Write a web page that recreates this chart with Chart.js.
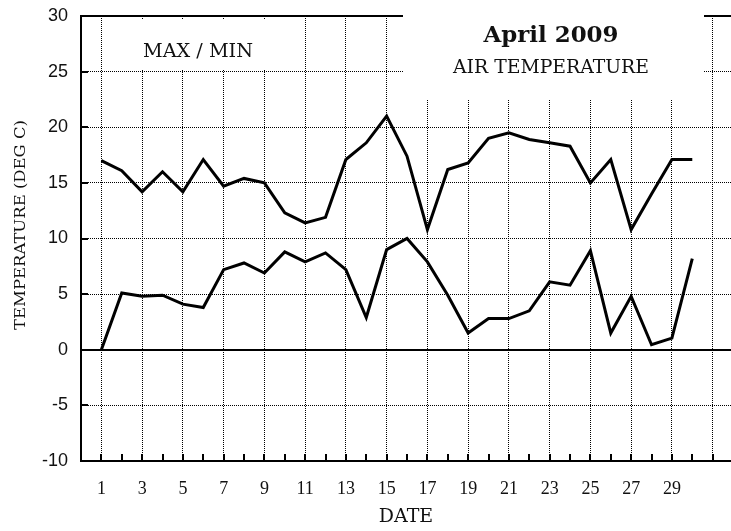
<!DOCTYPE html>
<html>
<head>
<meta charset="utf-8">
<script src="https://cdn.jsdelivr.net/npm/chart.js@4.4.1/dist/chart.umd.min.js"></script>
<style>
  html, body { margin: 0; padding: 0; background: #fff; overflow: hidden; }
  canvas { display: block; }
</style>
</head>
<body>
<canvas id="chart" width="731" height="531"></canvas>
<script>
// April 2009 daily air temperature
const days = [1, 2, 3, 4, 5, 6, 7, 8, 9, 10, 11, 12, 13, 14, 15,
              16, 17, 18, 19, 20, 21, 22, 23, 24, 25, 26, 27, 28, 29, 30];
const maxTemps = [17.0, 16.1, 14.2, 16.0, 14.2, 17.1, 14.7, 15.4, 15.0, 12.3,
                  11.4, 11.9, 17.1, 18.6, 21.0, 17.4, 10.8, 16.2, 16.8, 19.0,
                  19.5, 18.9, 18.6, 18.3, 15.0, 17.1, 10.8, 14.0, 17.1, 17.1];
const minTemps = [0.0, 5.1, 4.8, 4.9, 4.1, 3.8, 7.2, 7.8, 6.9, 8.8,
                  7.9, 8.7, 7.2, 2.9, 9.0, 10.0, 7.9, 4.9, 1.5, 2.8,
                  2.8, 3.5, 6.1, 5.8, 8.9, 1.5, 4.8, 0.45, 1.05, 8.2];
const yTicks = [-10, -5, 0, 5, 10, 15, 20, 25, 30];

const SERIF = '"DejaVu Serif", serif';

function toPoints(vals) {
    return days.map((d, i) => ({ x: d, y: vals[i] }));
}

// draws text stretched horizontally to a given width
function stretchText(ctx, text, cx, cy, font, width, rotate) {
    ctx.save();
    ctx.font = font;
    ctx.textAlign = "center";
    ctx.textBaseline = "alphabetic";
    ctx.fillStyle = "#111";
    const natural = ctx.measureText(text).width;
    ctx.translate(cx, cy);
    if (rotate) ctx.rotate(-Math.PI / 2);
    ctx.scale(width / natural, 1);
    ctx.fillText(text, 0, 0);
    ctx.restore();
}

const framePlugin = {
    id: "frame",
    beforeDatasetsDraw(chart) {
        const { ctx, chartArea: a, scales } = chart;
        const x = scales.x;
        const y = scales.y;
        const line = (x1, y1, x2, y2) => {
            ctx.beginPath();
            ctx.moveTo(x1, y1);
            ctx.lineTo(x2, y2);
            ctx.stroke();
        };

        ctx.save();
        ctx.strokeStyle = "#000";
        ctx.lineWidth = 2;

        // top border and zero line
        line(a.left, a.top, a.right, a.top);
        const y0 = Math.round(y.getPixelForValue(0));
        line(a.left, y0, a.right, y0);

        // inward tick marks
        for (let d = 1; d <= 32; d++) {
            const px = Math.round(x.getPixelForValue(d));
            if (px > a.right) break;
            line(px, a.bottom, px, a.bottom - 7);
        }
        yTicks.slice(1, -1).forEach((v) => {
            const py = Math.round(y.getPixelForValue(v));
            line(a.left, py, a.left + 7, py);
        });

        // label boxes
        ctx.fillStyle = "#fff";
        ctx.fillRect(104, 19, 198, 50);
        ctx.fillRect(403, 0, 301, 100);
        ctx.restore();

        stretchText(ctx, "MAX / MIN", 198, 57, "19px " + SERIF, 110, false);
        stretchText(ctx, "April 2009", 551, 42, "bold 23px " + SERIF, 135, false);
        stretchText(ctx, "AIR TEMPERATURE", 551, 73, "18px " + SERIF, 196, false);
        stretchText(ctx, "TEMPERATURE (DEG C)", 25, 225, "15px " + SERIF, 210, true);
    },
};

new Chart(document.getElementById("chart"), {
    type: "line",
    data: {
        datasets: [
            {
                label: "Max",
                data: toPoints(maxTemps),
                borderColor: "#000",
                borderWidth: 3,
                pointRadius: 0,
                tension: 0,
            },
            {
                label: "Min",
                data: toPoints(minTemps),
                borderColor: "#000",
                borderWidth: 3,
                pointRadius: 0,
                tension: 0,
            },
        ],
    },
    options: {
        responsive: false,
        animation: false,
        devicePixelRatio: 1,
        layout: { padding: { top: 16, left: 0, right: 0, bottom: 0 } },
        plugins: {
            legend: { display: false },
            tooltip: { enabled: false },
        },
        scales: {
            x: {
                type: "linear",
                min: 0,
                max: 31.9,
                afterFit: (scale) => {
                    scale.height = 70;
                    scale.paddingLeft = 0;
                    scale.paddingRight = 0;
                },
                afterBuildTicks: (scale) => {
                    const ticks = [];
                    for (let d = 0; d <= 31; d++) ticks.push({ value: d });
                    scale.ticks = ticks;
                },
                ticks: {
                    autoSkip: false,
                    maxRotation: 0,
                    padding: 17,
                    color: "#111",
                    font: { family: "Liberation Serif", size: 18 },
                    callback: (v) => (v % 2 === 1 && v <= 29 ? v : ""),
                },
                grid: {
                    drawTicks: false,
                    lineWidth: 1,
                    color: (ctx) =>
                        ctx.tick && ctx.tick.value % 2 === 1 ? "#000" : "rgba(0,0,0,0)",
                },
                border: { display: true, color: "#000", width: 2, dash: [1, 1] },
                title: {
                    display: true,
                    text: "DATE",
                    color: "#111",
                    font: { family: "DejaVu Serif", size: 19 },
                    padding: { top: 0, bottom: 3 },
                },
            },
            y: {
                min: -10,
                max: 30,
                afterFit: (scale) => {
                    scale.width = 81;
                    scale.paddingTop = 0;
                    scale.paddingBottom = 0;
                },
                afterBuildTicks: (scale) => {
                    scale.ticks = yTicks.map((v) => ({ value: v }));
                },
                ticks: {
                    padding: 13,
                    color: "#111",
                    font: { family: "Liberation Sans", size: 18 },
                },
                grid: {
                    drawTicks: false,
                    lineWidth: 1,
                    color: (ctx) =>
                        ctx.tick && (ctx.tick.value === 30 || ctx.tick.value === -10)
                            ? "rgba(0,0,0,0)"
                            : "#000",
                },
                border: { display: true, color: "#000", width: 2, dash: [1, 1] },
            },
        },
    },
    plugins: [framePlugin],
});
</script>
</body>
</html>
